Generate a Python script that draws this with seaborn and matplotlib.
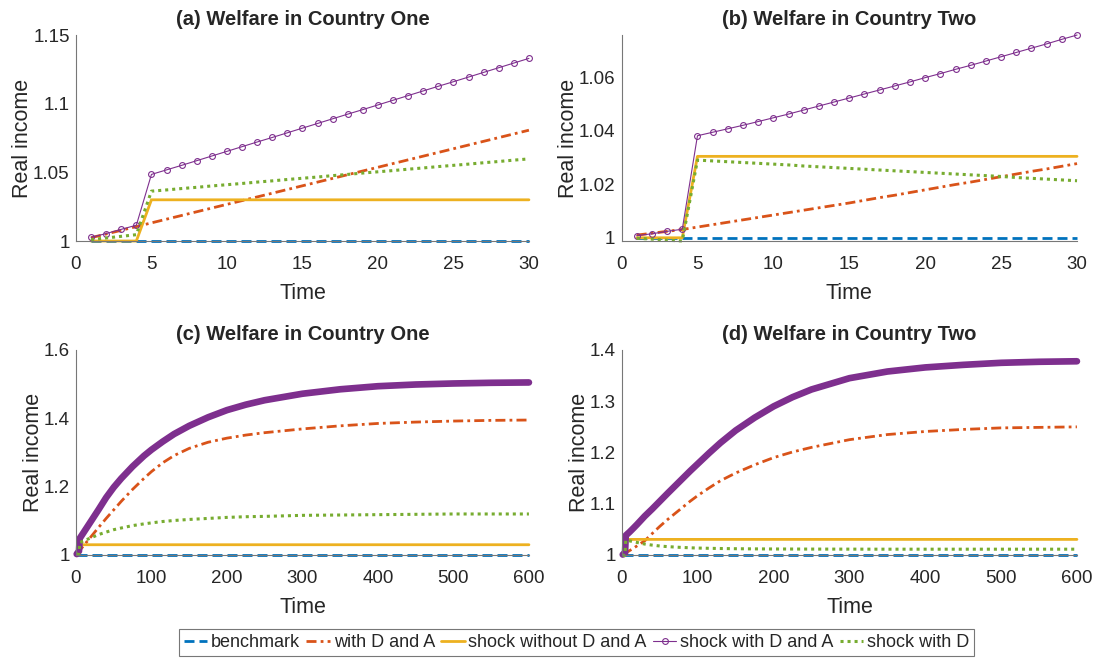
import matplotlib
matplotlib.use("Agg")
import matplotlib.pyplot as plt
from matplotlib.ticker import FormatStrFormatter
import seaborn as sns

# czas - krotki horyzont (panele a, b) i dlugi horyzont (panele c, d)
t_short = list(range(1, 31))
t_long = [1, 4, 5, 10, 15, 20, 30, 40, 50, 60, 75, 90, 100, 115, 130, 150, 175, 200, 225, 250,
          300, 350, 400, 450, 500, 550, 600]

labels = ["benchmark", "with D and A", "shock without D and A", "shock with D and A", "shock with D"]
titles = ["(a) Welfare in Country One", "(b) Welfare in Country Two",
          "(c) Welfare in Country One", "(d) Welfare in Country Two"]

# panel (a) - kraj 1, 30 okresow
bench_a = [1.0, 1.0, 1.0, 1.0, 1.0, 1.0, 1.0, 1.0, 1.0, 1.0, 1.0, 1.0, 1.0, 1.0, 1.0,
           1.0, 1.0, 1.0, 1.0, 1.0, 1.0, 1.0, 1.0, 1.0, 1.0, 1.0, 1.0, 1.0, 1.0, 1.0]
da_a = [1.0024, 1.0051, 1.0078, 1.0105, 1.0132, 1.0159, 1.0186, 1.0213, 1.0240, 1.0267,
        1.0294, 1.0321, 1.0348, 1.0375, 1.0402, 1.0429, 1.0456, 1.0483, 1.0510, 1.0537,
        1.0564, 1.0591, 1.0618, 1.0645, 1.0672, 1.0699, 1.0726, 1.0753, 1.0780, 1.0807]
shock_a = [1.0, 1.0, 1.0, 1.0, 1.03, 1.03, 1.03, 1.03, 1.03, 1.03, 1.03, 1.03, 1.03, 1.03, 1.03,
           1.03, 1.03, 1.03, 1.03, 1.03, 1.03, 1.03, 1.03, 1.03, 1.03, 1.03, 1.03, 1.03, 1.03, 1.03]
shock_da_a = [1.0027, 1.0054, 1.0085, 1.0115, 1.0485, 1.0518, 1.0551, 1.0585, 1.0619, 1.0653,
              1.0687, 1.0721, 1.0754, 1.0788, 1.0822, 1.0856, 1.0890, 1.0924, 1.0957, 1.0991,
              1.1025, 1.1059, 1.1093, 1.1127, 1.1160, 1.1194, 1.1228, 1.1262, 1.1296, 1.1330]
shock_d_a = [1.0010, 1.0022, 1.0034, 1.0046, 1.0363, 1.0372, 1.0382, 1.0391, 1.0401, 1.0410,
             1.0419, 1.0429, 1.0438, 1.0448, 1.0457, 1.0466, 1.0476, 1.0485, 1.0495, 1.0504,
             1.0513, 1.0523, 1.0532, 1.0542, 1.0551, 1.0560, 1.0570, 1.0579, 1.0589, 1.0598]

# panel (b) - kraj 2, 30 okresow
bench_b = [1.0, 1.0, 1.0, 1.0, 1.0, 1.0, 1.0, 1.0, 1.0, 1.0, 1.0, 1.0, 1.0, 1.0, 1.0,
           1.0, 1.0, 1.0, 1.0, 1.0, 1.0, 1.0, 1.0, 1.0, 1.0, 1.0, 1.0, 1.0, 1.0, 1.0]
da_b = [1.0010, 1.0017, 1.0024, 1.0031, 1.0040, 1.0049, 1.0058, 1.0067, 1.0076, 1.0085,
        1.0094, 1.0103, 1.0112, 1.0121, 1.0130, 1.0140, 1.0150, 1.0159, 1.0169, 1.0179,
        1.0189, 1.0199, 1.0208, 1.0218, 1.0228, 1.0238, 1.0248, 1.0257, 1.0267, 1.0277]
shock_b = [1.0, 1.0, 1.0, 1.0, 1.0304, 1.0304, 1.0304, 1.0304, 1.0304, 1.0304,
           1.0304, 1.0304, 1.0304, 1.0304, 1.0304, 1.0304, 1.0304, 1.0304, 1.0304, 1.0304,
           1.0304, 1.0304, 1.0304, 1.0304, 1.0304, 1.0304, 1.0304, 1.0304, 1.0304, 1.0304]
shock_da_b = [1.0008, 1.0015, 1.0024, 1.0032, 1.0381, 1.0394, 1.0407, 1.0420, 1.0434, 1.0448,
              1.0462, 1.0477, 1.0492, 1.0507, 1.0522, 1.0537, 1.0552, 1.0567, 1.0582, 1.0598,
              1.0613, 1.0629, 1.0644, 1.0660, 1.0676, 1.0692, 1.0708, 1.0724, 1.0741, 1.0757]
shock_d_b = [0.9998, 0.9995, 0.9991, 0.9988, 1.0290, 1.0287, 1.0284, 1.0281, 1.0278, 1.0275,
             1.0272, 1.0268, 1.0265, 1.0262, 1.0259, 1.0256, 1.0253, 1.0250, 1.0247, 1.0244,
             1.0241, 1.0238, 1.0235, 1.0232, 1.0229, 1.0225, 1.0222, 1.0219, 1.0216, 1.0213]

# panel (c) - kraj 1, 600 okresow
bench_c = [1.0, 1.0, 1.0, 1.0, 1.0, 1.0, 1.0, 1.0, 1.0, 1.0, 1.0, 1.0, 1.0, 1.0,
           1.0, 1.0, 1.0, 1.0, 1.0, 1.0, 1.0, 1.0, 1.0, 1.0, 1.0, 1.0, 1.0]
da_c = [1.0024, 1.0105, 1.0132, 1.0267, 1.0402, 1.0537, 1.0807, 1.107, 1.132, 1.157,
        1.192, 1.224, 1.244, 1.270, 1.291, 1.312, 1.330, 1.342, 1.351, 1.358,
        1.369, 1.378, 1.385, 1.389, 1.392, 1.394, 1.395]
shock_c = [1.0, 1.0, 1.03, 1.03, 1.03, 1.03, 1.03, 1.03, 1.03, 1.03, 1.03, 1.03, 1.03, 1.03,
           1.03, 1.03, 1.03, 1.03, 1.03, 1.03, 1.03, 1.03, 1.03, 1.03, 1.03, 1.03, 1.03]
shock_da_c = [1.0027, 1.0115, 1.0485, 1.0653, 1.0822, 1.0991, 1.1330, 1.168, 1.198, 1.224,
              1.259, 1.290, 1.308, 1.332, 1.354, 1.378, 1.403, 1.424, 1.440, 1.453,
              1.472, 1.485, 1.494, 1.499, 1.502, 1.504, 1.505]
shock_d_c = [1.0010, 1.0046, 1.0363, 1.0410, 1.0457, 1.0504, 1.0598, 1.067, 1.074, 1.079,
             1.086, 1.091, 1.094, 1.098, 1.101, 1.104, 1.107, 1.110, 1.112, 1.113,
             1.116, 1.117, 1.118, 1.119, 1.120, 1.120, 1.120]

# panel (d) - kraj 2, 600 okresow
bench_d = [1.0, 1.0, 1.0, 1.0, 1.0, 1.0, 1.0, 1.0, 1.0, 1.0, 1.0, 1.0, 1.0, 1.0,
           1.0, 1.0, 1.0, 1.0, 1.0, 1.0, 1.0, 1.0, 1.0, 1.0, 1.0, 1.0, 1.0]
da_d = [1.0010, 1.0031, 1.0040, 1.0085, 1.0130, 1.0179, 1.0277, 1.042, 1.056, 1.069,
        1.087, 1.105, 1.116, 1.131, 1.145, 1.160, 1.176, 1.190, 1.201, 1.210,
        1.225, 1.235, 1.241, 1.245, 1.248, 1.249, 1.250]
shock_d = [1.0, 1.0, 1.0304, 1.0304, 1.0304, 1.0304, 1.0304, 1.0304, 1.0304, 1.0304,
           1.0304, 1.0304, 1.0304, 1.0304, 1.0304, 1.0304, 1.0304, 1.0304, 1.0304, 1.0304,
           1.0304, 1.0304, 1.0304, 1.0304, 1.0304, 1.0304, 1.0304]
shock_da_d = [1.0008, 1.0032, 1.0381, 1.0448, 1.0522, 1.0598, 1.0757, 1.090, 1.105, 1.120,
              1.142, 1.164, 1.178, 1.199, 1.219, 1.243, 1.268, 1.290, 1.308, 1.323,
              1.345, 1.358, 1.366, 1.371, 1.375, 1.377, 1.378]
shock_d_d = [0.9998, 0.9988, 1.0290, 1.0275, 1.0259, 1.0244, 1.0213, 1.0192, 1.0175, 1.0163,
             1.0150, 1.0140, 1.0135, 1.0130, 1.0126, 1.0122, 1.0119, 1.0117, 1.0116, 1.0115,
             1.0114, 1.0113, 1.0113, 1.0113, 1.0113, 1.0113, 1.0113]

# kolory MATLAB
c_blue, c_orange, c_yellow, c_purple, c_green = "#0072BD", "#D95319", "#EDB120", "#7E2F8E", "#77AC30"

sns.set_style("white")
plt.rcParams["font.family"] = ["Liberation Sans", "DejaVu Sans"]

fig = plt.figure(figsize=(10.96, 6.61), dpi=100)
ax_a = fig.add_axes([0.0693, 0.6354, 0.4133, 0.3116])
ax_b = fig.add_axes([0.5671, 0.6354, 0.4156, 0.3116])
ax_c = fig.add_axes([0.0693, 0.1604, 0.4133, 0.3101])
ax_d = fig.add_axes([0.5675, 0.1604, 0.4151, 0.3101])


def draw_panel(ax, t, series, long_run):
    bench, da, shock, shock_da, shock_dd = series
    sns.lineplot(x=t, y=bench, ax=ax, color=c_blue, linewidth=2.0, linestyle=(0, (3.6, 1.8)),
                 label=labels[0], legend=False, clip_on=False)
    sns.lineplot(x=t, y=da, ax=ax, color=c_orange, linewidth=2.0, linestyle=(0, (3.6, 1.5, 1.0, 1.5)),
                 label=labels[1], legend=False, clip_on=False)
    sns.lineplot(x=t, y=shock, ax=ax, color=c_yellow, linewidth=2.0,
                 label=labels[2], legend=False, clip_on=False)
    if long_run:
        sns.lineplot(x=t, y=shock_da, ax=ax, color=c_purple, linewidth=4.8, solid_capstyle="round",
                     solid_joinstyle="round", label=labels[3], legend=False, clip_on=False)
    else:
        sns.lineplot(x=t, y=shock_da, ax=ax, color=c_purple, linewidth=0.8, marker="o", markersize=4.2,
                     markerfacecolor="none", markeredgecolor=c_purple, markeredgewidth=0.8,
                     label=labels[3], legend=False, clip_on=False)
    sns.lineplot(x=t, y=shock_dd, ax=ax, color=c_green, linewidth=2.2, linestyle=(0, (1.0, 1.3)),
                 label=labels[4], legend=False, clip_on=False)


draw_panel(ax_a, t_short, [bench_a, da_a, shock_a, shock_da_a, shock_d_a], False)
draw_panel(ax_b, t_short, [bench_b, da_b, shock_b, shock_da_b, shock_d_b], False)
draw_panel(ax_c, t_long, [bench_c, da_c, shock_c, shock_da_c, shock_d_c], True)
draw_panel(ax_d, t_long, [bench_d, da_d, shock_d, shock_da_d, shock_d_d], True)

# osie
limits = [((0, 30), (1.0, 1.15), [0, 5, 10, 15, 20, 25, 30], [1.0, 1.05, 1.1, 1.15]),
          ((0, 30), (0.9988, 1.0757), [0, 5, 10, 15, 20, 25, 30], [1.0, 1.02, 1.04, 1.06]),
          ((0, 600), (1.0, 1.6), [0, 100, 200, 300, 400, 500, 600], [1.0, 1.2, 1.4, 1.6]),
          ((0, 600), (1.0, 1.4), [0, 100, 200, 300, 400, 500, 600], [1.0, 1.1, 1.2, 1.3, 1.4])]

for ax, title, (xl, yl, xt, yt) in zip([ax_a, ax_b, ax_c, ax_d], titles, limits):
    ax.set_xlim(*xl)
    ax.set_ylim(*yl)
    ax.set_xticks(xt)
    ax.set_yticks(yt)
    ax.yaxis.set_major_formatter(FormatStrFormatter("%g"))
    ax.set_title(title, fontsize=14.5, fontweight="bold", pad=7)
    ax.set_xlabel("Time", fontsize=15.5, labelpad=7, color="#262626")
    ax.set_ylabel("Real income", fontsize=15.5, labelpad=0, color="#262626")
    for side in ["top", "right"]:
        ax.spines[side].set_visible(False)
    for side in ["left", "bottom"]:
        ax.spines[side].set_color("#777777")
        ax.spines[side].set_linewidth(0.8)
    ax.tick_params(axis="both", direction="in", length=3.5, width=0.8, color="#777777",
                   labelsize=13.5, labelcolor="#262626")
    ax.tick_params(axis="x", pad=11)
    ax.tick_params(axis="y", pad=4.5)
    ax.patch.set_alpha(0)

# wspolna legenda pod wykresami
hnd = ax_a.get_lines()[:5]
leg = fig.legend(handles=hnd, labels=labels, loc="center", bbox_to_anchor=(0.526, 0.028), ncol=5,
                 fontsize=13, handlelength=1.3, handletextpad=0.2, columnspacing=0.35, borderpad=0.3,
                 borderaxespad=0, numpoints=1, fancybox=False, framealpha=1, edgecolor="#777777")
leg.get_frame().set_linewidth(0.8)

plt.savefig("out.png", dpi=100)
